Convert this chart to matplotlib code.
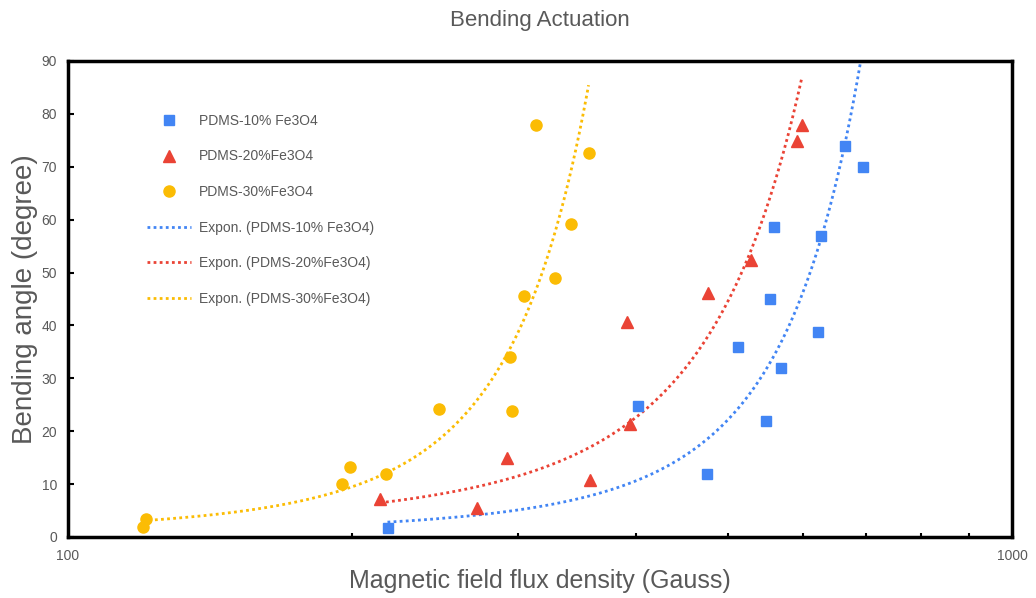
import matplotlib.pyplot as plt
import numpy as np
from matplotlib.ticker import FixedLocator, NullFormatter

plt.rcParams['font.family'] = ['Liberation Sans', 'DejaVu Sans']

# Magnetic field (Gauss) vs bending angle (degree)
x10 = [218, 402, 475, 512, 549, 554, 560, 569, 623, 628, 666, 695]
y10 = [1.7, 24.8, 11.9, 35.9, 21.9, 45.0, 58.6, 32.0, 38.8, 56.9, 73.9, 70.0]

x20 = [214, 271, 292, 357, 391, 394, 476, 529, 592, 599]
y20 = [7.2, 5.5, 14.9, 10.8, 40.6, 21.4, 46.1, 52.4, 74.9, 77.9]

x30 = [120, 121, 195, 199, 217, 247, 294, 295, 304, 313, 328, 341, 356]
y30 = [1.9, 3.4, 10.0, 13.2, 11.9, 24.2, 34.0, 23.8, 45.6, 77.9, 49.0, 59.2, 72.6]

labels = ['PDMS-10% Fe3O4', 'PDMS-20%Fe3O4', 'PDMS-30%Fe3O4']
colors = ['#4285F4', '#EA4335', '#FBBC04']
markers = ['s', '^', 'o']
sizes = [7, 8, 8]

gray = '#595959'

fig = plt.figure(figsize=(10.36, 5.98), dpi=100)
ax = fig.add_axes([68/1036, 61/598, 944/1036, 476/598])

series = [(x10, y10), (x20, y20), (x30, y30)]
handles_pts = []
handles_fit = []
for (xs, ys), lab, c, m, s in zip(series, labels, colors, markers, sizes):
    xs = np.array(xs, float)
    ys = np.array(ys, float)
    h, = ax.plot(xs, ys, linestyle='none', marker=m, color=c, markersize=s,
                 label=lab, zorder=3)
    handles_pts.append(h)
    # Excel-style exponential trendline: ln(y) = ln(a) + b*x
    b, lna = np.polyfit(xs, np.log(ys), 1)
    xf = np.linspace(xs.min(), xs.max(), 300)
    yf = np.exp(lna) * np.exp(b * xf)
    hf, = ax.plot(xf, yf, linestyle=(0, (1, 1.2)), color=c, linewidth=2,
                  label='Expon. (' + lab + ')', zorder=2)
    handles_fit.append(hf)

ax.set_xscale('log')
ax.set_xlim(100, 1000)
ax.set_ylim(0, 90)
ax.set_yticks(np.arange(0, 91, 10))
ax.xaxis.set_major_locator(FixedLocator([100, 1000]))
ax.xaxis.set_minor_locator(FixedLocator([200, 300, 400, 500, 600, 700, 800, 900]))
ax.xaxis.set_minor_formatter(NullFormatter())
ax.set_xticklabels(['100', '1000'])

for sp in ax.spines.values():
    sp.set_linewidth(2.5)
    sp.set_color('black')
ax.tick_params(axis='both', which='both', direction='in', colors='black',
               labelcolor=gray, labelsize=10)
ax.tick_params(axis='y', length=4, width=1.5, pad=8)
ax.tick_params(axis='x', which='major', length=0, pad=9)
ax.tick_params(axis='x', which='minor', length=3, width=1.5)

ax.set_title('Bending Actuation', color=gray, fontsize=16, pad=25)
ax.set_xlabel('Magnetic field flux density (Gauss)', color=gray, fontsize=18, labelpad=4)
ax.set_ylabel('Bending angle (degree)', color=gray, fontsize=20, labelpad=2)

leg = ax.legend(handles=handles_pts + handles_fit, loc='upper left',
                bbox_to_anchor=(0.07, 0.915), frameon=False, fontsize=10,
                labelspacing=1.55, handlelength=3.2, handletextpad=0.6)
for t in leg.get_texts():
    t.set_color(gray)

fig.savefig('out.png', dpi=100)
